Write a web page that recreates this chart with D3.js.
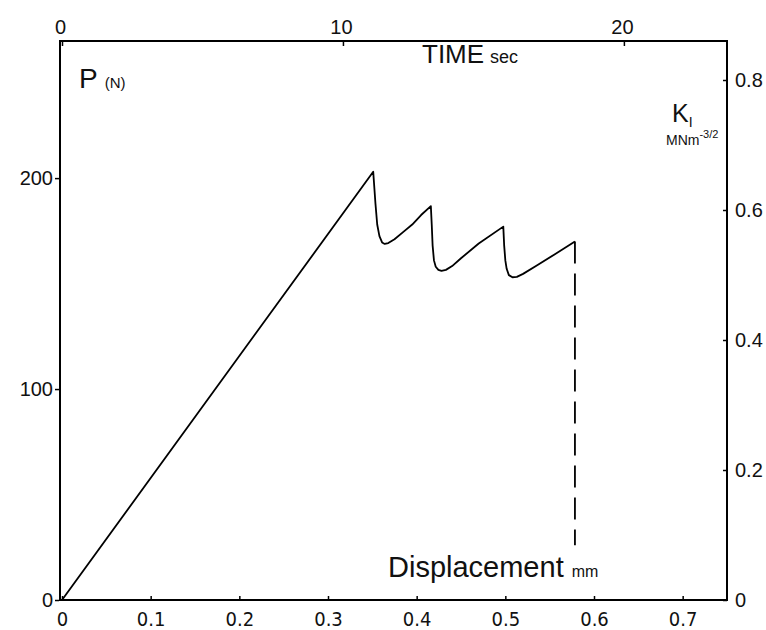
<!DOCTYPE html>
<html lang="en">
<head>
<meta charset="UTF-8">
<title>Load vs displacement</title>
<script src="https://d3js.org/d3.v7.min.js"></script>
<style>
    body { margin: 0; background: #fff; overflow: hidden; }
    svg { display: block; }
    .axis path { display: none; }
    .axis line { stroke: #000; stroke-width: 1.5px; }
    .axis text { font-family: "Liberation Sans", Arial, sans-serif; font-size: 20px; fill: #111; }
    .label { font-family: "Liberation Sans", Arial, sans-serif; fill: #111; }
</style>
</head>
<body>
<svg></svg>
<script>
    // load trace: displacement in mm, load in N
    var displacement = [0, 0.351, 0.3535, 0.3555, 0.358, 0.361, 0.364, 0.368, 0.375, 0.385, 0.395, 0.405, 0.416,
        0.417, 0.418, 0.4195, 0.4215, 0.4245, 0.428, 0.433, 0.44, 0.45, 0.47, 0.4977,
        0.4987, 0.5, 0.5015, 0.504, 0.508, 0.513, 0.52, 0.535, 0.555, 0.5785];
    var load = [0, 203, 188, 178, 172.5, 169.5, 168.8, 169.2, 171, 174.5, 178, 182.5, 186.7,
        178, 168, 161, 158, 156.5, 156, 156.5, 158.3, 162, 169, 177,
        168, 161, 157, 154, 153, 153.2, 154.6, 158.5, 163.7, 170];
    // dashed drop after the last point
    var dashEndLoad = 26;

    var dispTicks = [0, 0.1, 0.2, 0.3, 0.4, 0.5, 0.6, 0.7];
    var timeTicks = [0, 10, 20];
    var loadTicks = [0, 100, 200];
    var kTicks = [0, 0.2, 0.4, 0.6, 0.8];

    var width = 766, height = 630;
    var plotLeft = 62, plotRight = 727, plotTop = 41, plotBottom = 600;

    var svg = d3.select("svg").attr("width", width).attr("height", height);

    var x = d3.scaleLinear().domain([0, 0.75]).range([plotLeft, plotRight]);
    var t = d3.scaleLinear().domain([0, 23.67]).range([plotLeft, plotRight]);
    var y = d3.scaleLinear().domain([0, 265]).range([plotBottom, plotTop]);
    var k = d3.scaleLinear().domain([0, 0.86]).range([plotBottom, plotTop]);

    // frame
    svg.append("rect")
        .attr("x", plotLeft - 2).attr("y", plotTop)
        .attr("width", plotRight - plotLeft + 2).attr("height", plotBottom - plotTop)
        .style("fill", "none").style("stroke", "#000").style("stroke-width", 2);

    var fmt = function (d) { return String(d); };

    svg.append("g").classed("axis", true)
        .attr("transform", "translate(0," + plotBottom + ")")
        .call(d3.axisBottom(x).tickValues(dispTicks).tickSize(-4).tickPadding(12).tickFormat(fmt))
        .selectAll("text").style("font-family", "'DejaVu Sans Condensed', 'Liberation Sans Narrow', sans-serif");

    svg.append("g").classed("axis", true)
        .attr("transform", "translate(0," + plotTop + ")")
        .call(d3.axisTop(t).tickValues(timeTicks).tickSize(-5).tickPadding(7).tickFormat(fmt))
        .selectAll("text").attr("dx", -2);

    svg.append("g").classed("axis", true)
        .attr("transform", "translate(" + (plotLeft - 3) + ",0)")
        .call(d3.axisLeft(y).tickValues(loadTicks).tickSize(4).tickPadding(2).tickFormat(fmt));

    svg.append("g").classed("axis", true)
        .attr("transform", "translate(" + plotRight + ",0)")
        .call(d3.axisRight(k).tickValues(kTicks).tickSize(-4).tickPadding(8).tickFormat(fmt));

    // curve
    var pts = displacement.map(function (d, i) { return [d, load[i]]; });
    var line = d3.line()
        .x(function (d) { return x(d[0]); })
        .y(function (d) { return y(d[1]); });

    svg.append("path")
        .datum(pts)
        .attr("d", line)
        .style("fill", "none").style("stroke", "#000").style("stroke-width", 1.8)
        .style("stroke-linejoin", "round");

    var last = pts[pts.length - 1];
    svg.append("line")
        .attr("x1", x(last[0])).attr("y1", y(last[1]))
        .attr("x2", x(last[0])).attr("y2", y(dashEndLoad))
        .style("stroke", "#000").style("stroke-width", 1.8)
        .style("stroke-dasharray", "22,10");

    // labels
    var p = svg.append("text").classed("label", true).attr("x", 79).attr("y", 88).style("font-size", "28px");
    p.append("tspan").text("P");
    p.append("tspan").attr("dx", 7).style("font-size", "15px").text("(N)");

    var tm = svg.append("text").classed("label", true).attr("x", 422).attr("y", 63).style("font-size", "26px");
    tm.append("tspan").text("TIME");
    tm.append("tspan").attr("dx", 6).style("font-size", "18px").text("sec");

    var ki = svg.append("text").classed("label", true).attr("x", 672).attr("y", 122).style("font-size", "25px");
    ki.append("tspan").text("K");
    ki.append("tspan").attr("dy", 5).style("font-size", "14px").text("I");

    var mn = svg.append("text").classed("label", true).attr("x", 666).attr("y", 145).style("font-size", "14px");
    mn.append("tspan").text("MNm");
    mn.append("tspan").attr("dy", -7).attr("dx", 0).style("font-size", "11px").text("-3/2");

    var dl = svg.append("text").classed("label", true).attr("x", 388).attr("y", 577).style("font-size", "29px");
    dl.append("tspan").text("Displacement");
    dl.append("tspan").attr("dx", 8).style("font-size", "16px").text("mm");
</script>
</body>
</html>
